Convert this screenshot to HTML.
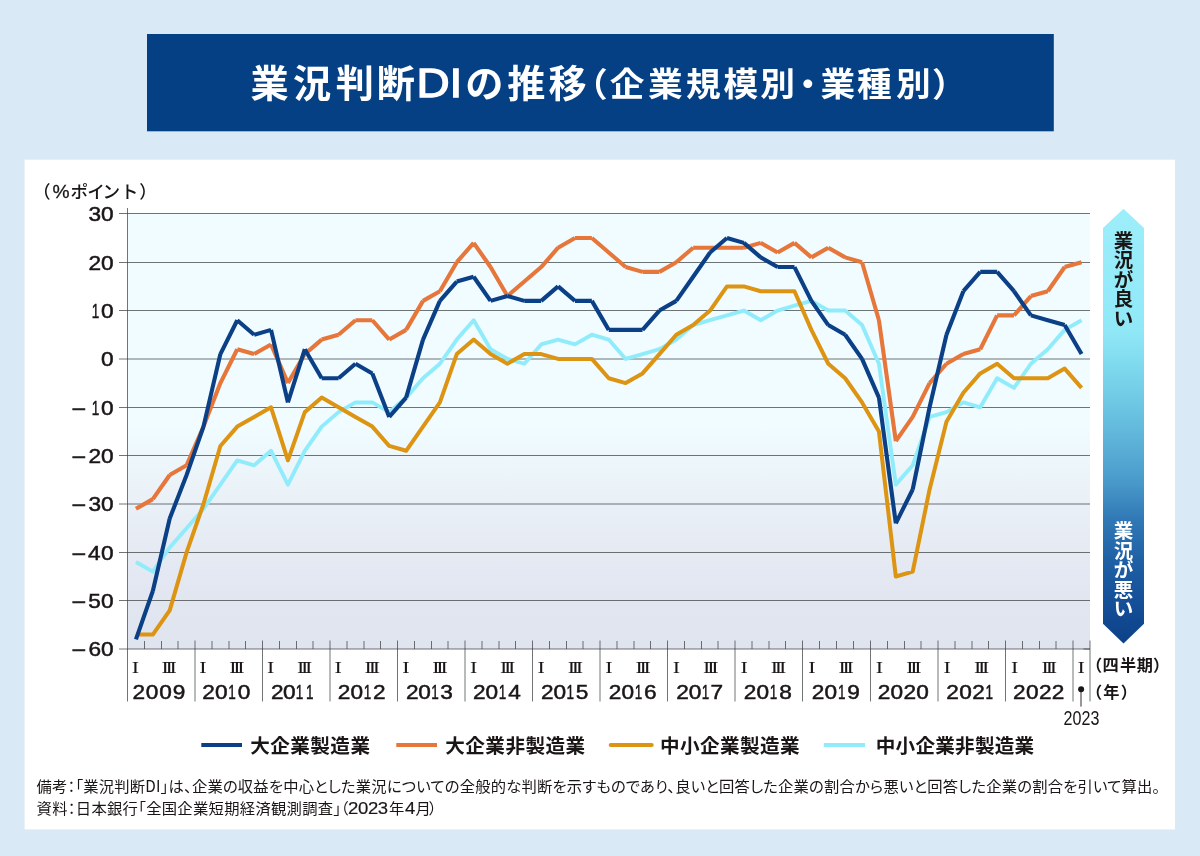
<!DOCTYPE html>
<html lang="ja"><head><meta charset="utf-8"><title>業況判断DIの推移（企業規模別・業種別）</title>
<style>
html,body{margin:0;padding:0;background:#dae9f6;}
body{width:1200px;height:856px;overflow:hidden;}
svg{display:block;}
text{font-family:"Liberation Sans","Noto Sans CJK JP",sans-serif;fill:#1a1615;}
.jp{font-family:"Noto Sans CJK JP","Liberation Sans",sans-serif;}
.ls{font-family:"Liberation Sans","Noto Sans CJK JP",sans-serif;}
.se{font-family:"Liberation Serif","Noto Serif CJK JP",serif;}
.b{font-weight:700;}
.m{font-weight:500;}
.r{font-weight:400;}
.w{fill:#fff;}
.palt{font-feature-settings:"palt" 1;}
.d{stroke:#1a1615;stroke-width:0.5px;}
.d2{stroke:#1a1615;stroke-width:0.16px;}
.di{stroke:#fff;stroke-width:1.3px;}
</style></head><body>
<svg width="1200" height="856" viewBox="0 0 1200 856">
<defs>
<linearGradient id="pg" x1="0" y1="0" x2="0" y2="1"><stop offset="0" stop-color="#f0fcff"/><stop offset="0.49" stop-color="#f0fcff"/><stop offset="0.59" stop-color="#ecf5fa"/><stop offset="0.67" stop-color="#e9f0f7"/><stop offset="0.77" stop-color="#e5eaf3"/><stop offset="0.88" stop-color="#e2e6f1"/><stop offset="1" stop-color="#e0e4ef"/></linearGradient>
<linearGradient id="ag" x1="0" y1="0" x2="0" y2="1"><stop offset="0" stop-color="#9ceefa"/><stop offset="0.28" stop-color="#90e8f7"/><stop offset="0.394" stop-color="#78d3ea"/><stop offset="0.509" stop-color="#62b9dc"/><stop offset="0.624" stop-color="#4a9bcb"/><stop offset="0.716" stop-color="#3078b5"/><stop offset="0.808" stop-color="#1f60a5"/><stop offset="0.90" stop-color="#155098"/><stop offset="1" stop-color="#0c4189"/></linearGradient>
</defs>
<rect x="0" y="0" width="1200" height="856" fill="#dae9f6"/>
<rect x="147" y="34" width="906.8" height="97.3" fill="#054085"/>
<rect x="24.6" y="159.7" width="1150.4" height="669.7" fill="#fff"/>
<text class="jp b w" y="97.2"><tspan x="250.57" textLength="38.16" lengthAdjust="spacingAndGlyphs" font-size="37.6">業</tspan><tspan x="292.97" textLength="38.16" lengthAdjust="spacingAndGlyphs" font-size="37.6">況</tspan><tspan x="335.73" textLength="38.16" lengthAdjust="spacingAndGlyphs" font-size="37.6">判</tspan><tspan x="376.65" textLength="38.16" lengthAdjust="spacingAndGlyphs" font-size="37.6">断</tspan><tspan class="ls r di" font-size="40.3" y="97.1"><tspan x="416.6" textLength="33.18" lengthAdjust="spacingAndGlyphs">D</tspan><tspan x="449.4" textLength="12.77" lengthAdjust="spacingAndGlyphs">I</tspan></tspan><tspan x="465.31" y="97.2" textLength="38.16" lengthAdjust="spacingAndGlyphs" font-size="37.6">の</tspan><tspan x="507.36" y="97.2" textLength="38.16" lengthAdjust="spacingAndGlyphs" font-size="37.6">推</tspan><tspan x="548.61" y="97.2" textLength="38.16" lengthAdjust="spacingAndGlyphs" font-size="37.6">移</tspan><tspan x="573.13" y="95.7" textLength="34.69" lengthAdjust="spacingAndGlyphs" font-size="33.2">（</tspan><tspan x="609.86" y="95.7" textLength="34.69" lengthAdjust="spacingAndGlyphs" font-size="33.2">企</tspan><tspan x="648.11" y="95.7" textLength="34.69" lengthAdjust="spacingAndGlyphs" font-size="33.2">業</tspan><tspan x="686.07" y="95.7" textLength="34.69" lengthAdjust="spacingAndGlyphs" font-size="33.2">規</tspan><tspan x="723.64" y="95.7" textLength="34.69" lengthAdjust="spacingAndGlyphs" font-size="33.2">模</tspan><tspan x="760.38" y="95.7" textLength="34.69" lengthAdjust="spacingAndGlyphs" font-size="33.2">別</tspan><tspan x="790.4" y="95.7" textLength="34.69" lengthAdjust="spacingAndGlyphs" font-size="33.2">・</tspan><tspan x="820.51" y="95.7" textLength="34.69" lengthAdjust="spacingAndGlyphs" font-size="33.2">業</tspan><tspan x="857.03" y="95.7" textLength="34.69" lengthAdjust="spacingAndGlyphs" font-size="33.2">種</tspan><tspan x="896.08" y="95.7" textLength="34.69" lengthAdjust="spacingAndGlyphs" font-size="33.2">別</tspan><tspan x="932.12" y="95.7" textLength="34.69" lengthAdjust="spacingAndGlyphs" font-size="33.2">）</tspan></text>
<rect x="128" y="214" width="962" height="435" fill="url(#pg)"/>
<line x1="119" y1="213.5" x2="1090" y2="213.5" stroke="#3a3d3e" stroke-width="0.72"/>
<line x1="119" y1="262.5" x2="1090" y2="262.5" stroke="#3a3d3e" stroke-width="0.72"/>
<line x1="119" y1="310.5" x2="1090" y2="310.5" stroke="#3a3d3e" stroke-width="0.72"/>
<line x1="119" y1="359" x2="1090" y2="359" stroke="#3a3d3e" stroke-width="0.72"/>
<line x1="119" y1="407.5" x2="1090" y2="407.5" stroke="#3a3d3e" stroke-width="0.72"/>
<line x1="119" y1="455.5" x2="1090" y2="455.5" stroke="#3a3d3e" stroke-width="0.72"/>
<line x1="119" y1="504" x2="1090" y2="504" stroke="#3a3d3e" stroke-width="0.72"/>
<line x1="119" y1="552.5" x2="1090" y2="552.5" stroke="#3a3d3e" stroke-width="0.72"/>
<line x1="119" y1="600.5" x2="1090" y2="600.5" stroke="#3a3d3e" stroke-width="0.72"/>
<line x1="119" y1="649" x2="1090" y2="649" stroke="#3a3d3e" stroke-width="0.72"/>
<line x1="144.5" y1="641" x2="144.5" y2="649" stroke="#3a3d3e" stroke-width="0.72"/>
<line x1="161.5" y1="641" x2="161.5" y2="649" stroke="#3a3d3e" stroke-width="0.72"/>
<line x1="178" y1="641" x2="178" y2="649" stroke="#3a3d3e" stroke-width="0.72"/>
<line x1="195" y1="640.5" x2="195" y2="701.5" stroke="#3a3d3e" stroke-width="0.72"/>
<line x1="212" y1="641" x2="212" y2="649" stroke="#3a3d3e" stroke-width="0.72"/>
<line x1="229" y1="641" x2="229" y2="649" stroke="#3a3d3e" stroke-width="0.72"/>
<line x1="245.5" y1="641" x2="245.5" y2="649" stroke="#3a3d3e" stroke-width="0.72"/>
<line x1="262.5" y1="640.5" x2="262.5" y2="701.5" stroke="#3a3d3e" stroke-width="0.72"/>
<line x1="279.5" y1="641" x2="279.5" y2="649" stroke="#3a3d3e" stroke-width="0.72"/>
<line x1="296.5" y1="641" x2="296.5" y2="649" stroke="#3a3d3e" stroke-width="0.72"/>
<line x1="313" y1="641" x2="313" y2="649" stroke="#3a3d3e" stroke-width="0.72"/>
<line x1="330" y1="640.5" x2="330" y2="701.5" stroke="#3a3d3e" stroke-width="0.72"/>
<line x1="347" y1="641" x2="347" y2="649" stroke="#3a3d3e" stroke-width="0.72"/>
<line x1="364" y1="641" x2="364" y2="649" stroke="#3a3d3e" stroke-width="0.72"/>
<line x1="380.5" y1="641" x2="380.5" y2="649" stroke="#3a3d3e" stroke-width="0.72"/>
<line x1="397.5" y1="640.5" x2="397.5" y2="701.5" stroke="#3a3d3e" stroke-width="0.72"/>
<line x1="414.5" y1="641" x2="414.5" y2="649" stroke="#3a3d3e" stroke-width="0.72"/>
<line x1="431.5" y1="641" x2="431.5" y2="649" stroke="#3a3d3e" stroke-width="0.72"/>
<line x1="448" y1="641" x2="448" y2="649" stroke="#3a3d3e" stroke-width="0.72"/>
<line x1="465" y1="640.5" x2="465" y2="701.5" stroke="#3a3d3e" stroke-width="0.72"/>
<line x1="482" y1="641" x2="482" y2="649" stroke="#3a3d3e" stroke-width="0.72"/>
<line x1="499" y1="641" x2="499" y2="649" stroke="#3a3d3e" stroke-width="0.72"/>
<line x1="515.5" y1="641" x2="515.5" y2="649" stroke="#3a3d3e" stroke-width="0.72"/>
<line x1="532.5" y1="640.5" x2="532.5" y2="701.5" stroke="#3a3d3e" stroke-width="0.72"/>
<line x1="549.5" y1="641" x2="549.5" y2="649" stroke="#3a3d3e" stroke-width="0.72"/>
<line x1="566.5" y1="641" x2="566.5" y2="649" stroke="#3a3d3e" stroke-width="0.72"/>
<line x1="583" y1="641" x2="583" y2="649" stroke="#3a3d3e" stroke-width="0.72"/>
<line x1="600" y1="640.5" x2="600" y2="701.5" stroke="#3a3d3e" stroke-width="0.72"/>
<line x1="617" y1="641" x2="617" y2="649" stroke="#3a3d3e" stroke-width="0.72"/>
<line x1="634" y1="641" x2="634" y2="649" stroke="#3a3d3e" stroke-width="0.72"/>
<line x1="650.5" y1="641" x2="650.5" y2="649" stroke="#3a3d3e" stroke-width="0.72"/>
<line x1="667.5" y1="640.5" x2="667.5" y2="701.5" stroke="#3a3d3e" stroke-width="0.72"/>
<line x1="684.5" y1="641" x2="684.5" y2="649" stroke="#3a3d3e" stroke-width="0.72"/>
<line x1="701.5" y1="641" x2="701.5" y2="649" stroke="#3a3d3e" stroke-width="0.72"/>
<line x1="718" y1="641" x2="718" y2="649" stroke="#3a3d3e" stroke-width="0.72"/>
<line x1="735" y1="640.5" x2="735" y2="701.5" stroke="#3a3d3e" stroke-width="0.72"/>
<line x1="752" y1="641" x2="752" y2="649" stroke="#3a3d3e" stroke-width="0.72"/>
<line x1="769" y1="641" x2="769" y2="649" stroke="#3a3d3e" stroke-width="0.72"/>
<line x1="785.5" y1="641" x2="785.5" y2="649" stroke="#3a3d3e" stroke-width="0.72"/>
<line x1="802.5" y1="640.5" x2="802.5" y2="701.5" stroke="#3a3d3e" stroke-width="0.72"/>
<line x1="819.5" y1="641" x2="819.5" y2="649" stroke="#3a3d3e" stroke-width="0.72"/>
<line x1="836.5" y1="641" x2="836.5" y2="649" stroke="#3a3d3e" stroke-width="0.72"/>
<line x1="853.5" y1="641" x2="853.5" y2="649" stroke="#3a3d3e" stroke-width="0.72"/>
<line x1="870.5" y1="640.5" x2="870.5" y2="701.5" stroke="#3a3d3e" stroke-width="0.72"/>
<line x1="887.5" y1="641" x2="887.5" y2="649" stroke="#3a3d3e" stroke-width="0.72"/>
<line x1="904.5" y1="641" x2="904.5" y2="649" stroke="#3a3d3e" stroke-width="0.72"/>
<line x1="921" y1="641" x2="921" y2="649" stroke="#3a3d3e" stroke-width="0.72"/>
<line x1="938" y1="640.5" x2="938" y2="701.5" stroke="#3a3d3e" stroke-width="0.72"/>
<line x1="955" y1="641" x2="955" y2="649" stroke="#3a3d3e" stroke-width="0.72"/>
<line x1="972" y1="641" x2="972" y2="649" stroke="#3a3d3e" stroke-width="0.72"/>
<line x1="988.5" y1="641" x2="988.5" y2="649" stroke="#3a3d3e" stroke-width="0.72"/>
<line x1="1005.5" y1="640.5" x2="1005.5" y2="701.5" stroke="#3a3d3e" stroke-width="0.72"/>
<line x1="1022.5" y1="641" x2="1022.5" y2="649" stroke="#3a3d3e" stroke-width="0.72"/>
<line x1="1039.5" y1="641" x2="1039.5" y2="649" stroke="#3a3d3e" stroke-width="0.72"/>
<line x1="1056" y1="641" x2="1056" y2="649" stroke="#3a3d3e" stroke-width="0.72"/>
<line x1="1073" y1="640.5" x2="1073" y2="701.5" stroke="#3a3d3e" stroke-width="0.72"/>
<line x1="1090" y1="640.5" x2="1090" y2="701.5" stroke="#3a3d3e" stroke-width="0.72"/>
<line x1="1083.5" y1="649" x2="1090" y2="649" stroke="#3a3d3e" stroke-width="0.72"/>
<line x1="127.5" y1="208" x2="127.5" y2="701.5" stroke="#3a3d3e" stroke-width="0.72"/>
<polyline points="135.94,562.01 152.83,571.68 169.71,547.5 186.6,528.16 203.49,508.82 220.37,484.64 237.26,460.46 254.14,465.3 271.03,450.79 287.92,484.64 304.8,450.79 321.69,426.61 338.57,412.11 355.46,402.43 372.35,402.43 389.23,412.11 406.12,397.6 423,378.26 439.89,363.75 456.78,339.57 473.66,320.23 490.55,349.24 507.43,358.91 524.32,363.75 541.21,344.41 558.09,339.57 574.98,344.41 591.86,334.74 608.75,339.57 625.64,358.91 642.52,354.08 659.41,349.24 676.29,339.57 693.18,325.07 710.07,320.23 726.95,315.4 743.84,310.56 760.72,320.23 777.61,310.56 794.5,305.72 811.38,300.89 828.27,310.56 845.15,310.56 862.04,325.07 878.93,363.75 895.81,484.64 912.7,465.3 929.58,416.94 946.47,412.11 963.36,402.43 980.24,407.27 997.13,378.26 1014.01,387.93 1030.9,363.75 1047.79,349.24 1064.67,329.9 1081.56,320.23" fill="none" stroke="#90ecfb" stroke-width="3.9" stroke-linejoin="round" stroke-linecap="butt"/>
<polyline points="135.94,634.54 152.83,634.54 169.71,610.36 186.6,552.34 203.49,503.98 220.37,445.95 237.26,426.61 254.14,416.94 271.03,407.27 287.92,460.46 304.8,412.11 321.69,397.6 338.57,407.27 355.46,416.94 372.35,426.61 389.23,445.95 406.12,450.79 423,426.61 439.89,402.43 456.78,354.08 473.66,339.57 490.55,354.08 507.43,363.75 524.32,354.08 541.21,354.08 558.09,358.91 574.98,358.91 591.86,358.91 608.75,378.26 625.64,383.09 642.52,373.42 659.41,354.08 676.29,334.74 693.18,325.07 710.07,310.56 726.95,286.38 743.84,286.38 760.72,291.22 777.61,291.22 794.5,291.22 811.38,329.9 828.27,363.75 845.15,378.26 862.04,402.43 878.93,431.45 895.81,576.51 912.7,571.68 929.58,489.47 946.47,421.78 963.36,392.76 980.24,373.42 997.13,363.75 1014.01,378.26 1030.9,378.26 1047.79,378.26 1064.67,368.59 1081.56,387.93" fill="none" stroke="#dc9412" stroke-width="4.0" stroke-linejoin="round" stroke-linecap="butt"/>
<path d="M135.94 508.82L152.83 499.14M152.83 499.14L169.71 474.97M169.71 474.97L186.6 465.3M186.6 465.3L203.49 426.61M203.49 426.61L220.37 383.09M220.37 383.09L237.26 349.24M237.26 349.24L254.14 354.08M254.14 354.08L271.03 344.41M271.03 344.41L287.92 383.09M287.92 383.09L304.8 354.08M304.8 354.08L321.69 339.57M321.69 339.57L338.57 334.74M338.57 334.74L355.46 320.23M355.46 320.23L372.35 320.23M372.35 320.23L389.23 339.57M389.23 339.57L406.12 329.9M406.12 329.9L423 300.89M423 300.89L439.89 291.22M439.89 291.22L456.78 262.2M456.78 262.2L473.66 242.86M473.66 242.86L490.55 267.04M490.55 267.04L507.43 296.05M507.43 296.05L524.32 281.55M524.32 281.55L541.21 267.04M541.21 267.04L558.09 247.7M558.09 247.7L574.98 238.03M574.98 238.03L591.86 238.03M591.86 238.03L608.75 252.53M608.75 252.53L625.64 267.04M625.64 267.04L642.52 271.88M642.52 271.88L659.41 271.88M659.41 271.88L676.29 262.2M676.29 262.2L693.18 247.7M693.18 247.7L710.07 247.7M710.07 247.7L726.95 247.7M726.95 247.7L743.84 247.7M743.84 247.7L760.72 242.86M760.72 242.86L777.61 252.53M777.61 252.53L794.5 242.86M794.5 242.86L811.38 257.37M811.38 257.37L828.27 247.7M828.27 247.7L845.15 257.37M845.15 257.37L862.04 262.2M862.04 262.2L878.93 320.23M878.93 320.23L895.81 441.12M895.81 441.12L912.7 416.94M912.7 416.94L929.58 383.09M929.58 383.09L946.47 363.75M946.47 363.75L963.36 354.08M963.36 354.08L980.24 349.24M980.24 349.24L997.13 315.4M997.13 315.4L1014.01 315.4M1014.01 315.4L1030.9 296.05M1030.9 296.05L1047.79 291.22M1047.79 291.22L1064.67 267.04M1064.67 267.04L1081.56 262.2" fill="none" stroke="#e6763a" stroke-width="4.1"/>
<path d="M135.94 639.37L152.83 591.02M152.83 591.02L169.71 518.49M169.71 518.49L186.6 474.97M186.6 474.97L203.49 426.61M203.49 426.61L220.37 354.08M220.37 354.08L237.26 320.23M237.26 320.23L254.14 334.74M254.14 334.74L271.03 329.9M271.03 329.9L287.92 402.43M287.92 402.43L304.8 349.24M304.8 349.24L321.69 378.26M321.69 378.26L338.57 378.26M338.57 378.26L355.46 363.75M355.46 363.75L372.35 373.42M372.35 373.42L389.23 416.94M389.23 416.94L406.12 397.6M406.12 397.6L423 339.57M423 339.57L439.89 300.89M439.89 300.89L456.78 281.55M456.78 281.55L473.66 276.71M473.66 276.71L490.55 300.89M490.55 300.89L507.43 296.05M507.43 296.05L524.32 300.89M524.32 300.89L541.21 300.89M541.21 300.89L558.09 286.38M558.09 286.38L574.98 300.89M574.98 300.89L591.86 300.89M591.86 300.89L608.75 329.9M608.75 329.9L625.64 329.9M625.64 329.9L642.52 329.9M642.52 329.9L659.41 310.56M659.41 310.56L676.29 300.89M676.29 300.89L693.18 276.71M693.18 276.71L710.07 252.53M710.07 252.53L726.95 238.03M726.95 238.03L743.84 242.86M743.84 242.86L760.72 257.37M760.72 257.37L777.61 267.04M777.61 267.04L794.5 267.04M794.5 267.04L811.38 300.89M811.38 300.89L828.27 325.07M828.27 325.07L845.15 334.74M845.15 334.74L862.04 358.91M862.04 358.91L878.93 397.6M878.93 397.6L895.81 523.32M895.81 523.32L912.7 489.47M912.7 489.47L929.58 407.27M929.58 407.27L946.47 334.74M946.47 334.74L963.36 291.22M963.36 291.22L980.24 271.88M980.24 271.88L997.13 271.88M997.13 271.88L1014.01 291.22M1014.01 291.22L1030.9 315.4M1030.9 315.4L1047.79 320.23M1047.79 320.23L1064.67 325.07M1064.67 325.07L1081.56 354.08" fill="none" stroke="#0b3f86" stroke-width="4.1"/>
<text class="jp m" y="198"><tspan x="32.96" font-size="17.6">（</tspan><tspan class="ls r d2" x="52.6" y="198.1" font-size="19.2" style="stroke-width:0.3px">%</tspan><tspan x="70.61" y="198" font-size="17.6">ポ</tspan><tspan x="87.14" y="198" font-size="17.6">イ</tspan><tspan x="102.47" y="198" font-size="17.6">ン</tspan><tspan x="120.68" y="198" font-size="17.6">ト</tspan><tspan x="139.19" y="198" font-size="17.6">）</tspan></text>
<text class="ls d" y="220.9" font-size="20.8"><tspan x="88.4" y="220.9" textLength="12.61" lengthAdjust="spacingAndGlyphs">3</tspan><tspan x="101.02" textLength="12.61" lengthAdjust="spacingAndGlyphs">0</tspan></text>
<text class="ls d" y="269.9" font-size="20.8"><tspan x="88.57" y="269.9" textLength="12.61" lengthAdjust="spacingAndGlyphs">2</tspan><tspan x="101.02" textLength="12.61" lengthAdjust="spacingAndGlyphs">0</tspan></text>
<text class="ls d" y="317.9" font-size="20.8"><tspan x="91.86" y="317.9" textLength="7.52" lengthAdjust="spacingAndGlyphs">1</tspan><tspan x="101.02" textLength="12.61" lengthAdjust="spacingAndGlyphs">0</tspan></text>
<text class="ls d" y="366.4" font-size="20.8"><tspan x="101.02" y="366.4" textLength="12.61" lengthAdjust="spacingAndGlyphs">0</tspan></text>
<text class="ls d" y="414.9" font-size="20.8"><tspan x="71.64" y="415.9" textLength="14.69" lengthAdjust="spacingAndGlyphs">−</tspan><tspan x="91.86" y="414.9" textLength="7.52" lengthAdjust="spacingAndGlyphs">1</tspan><tspan x="101.02" textLength="12.61" lengthAdjust="spacingAndGlyphs">0</tspan></text>
<text class="ls d" y="462.9" font-size="20.8"><tspan x="71.64" y="463.9" textLength="14.69" lengthAdjust="spacingAndGlyphs">−</tspan><tspan x="88.57" y="462.9" textLength="12.61" lengthAdjust="spacingAndGlyphs">2</tspan><tspan x="101.02" textLength="12.61" lengthAdjust="spacingAndGlyphs">0</tspan></text>
<text class="ls d" y="511.4" font-size="20.8"><tspan x="71.64" y="512.4" textLength="14.69" lengthAdjust="spacingAndGlyphs">−</tspan><tspan x="88.4" y="511.4" textLength="12.61" lengthAdjust="spacingAndGlyphs">3</tspan><tspan x="101.02" textLength="12.61" lengthAdjust="spacingAndGlyphs">0</tspan></text>
<text class="ls d" y="559.9" font-size="20.8"><tspan x="71.64" y="560.9" textLength="14.69" lengthAdjust="spacingAndGlyphs">−</tspan><tspan x="88.06" y="559.9" textLength="12.61" lengthAdjust="spacingAndGlyphs">4</tspan><tspan x="101.02" textLength="12.61" lengthAdjust="spacingAndGlyphs">0</tspan></text>
<text class="ls d" y="607.9" font-size="20.8"><tspan x="71.64" y="608.9" textLength="14.69" lengthAdjust="spacingAndGlyphs">−</tspan><tspan x="88.35" y="607.9" textLength="12.61" lengthAdjust="spacingAndGlyphs">5</tspan><tspan x="101.02" textLength="12.61" lengthAdjust="spacingAndGlyphs">0</tspan></text>
<text class="ls d" y="656.4" font-size="20.8"><tspan x="71.64" y="657.4" textLength="14.69" lengthAdjust="spacingAndGlyphs">−</tspan><tspan x="88.4" y="656.4" textLength="12.61" lengthAdjust="spacingAndGlyphs">6</tspan><tspan x="101.02" textLength="12.61" lengthAdjust="spacingAndGlyphs">0</tspan></text>
<text class="se" y="673" font-size="17.6"><tspan x="131.69" textLength="7.33" lengthAdjust="spacingAndGlyphs">I</tspan></text>
<text class="se" y="673" font-size="17.6"><tspan x="161.52" textLength="7.33" lengthAdjust="spacingAndGlyphs">I</tspan><tspan x="165.57" textLength="7.33" lengthAdjust="spacingAndGlyphs">I</tspan><tspan x="169.62" textLength="7.33" lengthAdjust="spacingAndGlyphs">I</tspan></text>
<text class="se" y="673" font-size="17.6"><tspan x="199.34" textLength="7.33" lengthAdjust="spacingAndGlyphs">I</tspan></text>
<text class="se" y="673" font-size="17.6"><tspan x="229.22" textLength="7.33" lengthAdjust="spacingAndGlyphs">I</tspan><tspan x="233.27" textLength="7.33" lengthAdjust="spacingAndGlyphs">I</tspan><tspan x="237.32" textLength="7.33" lengthAdjust="spacingAndGlyphs">I</tspan></text>
<text class="se" y="673" font-size="17.6"><tspan x="266.99" textLength="7.33" lengthAdjust="spacingAndGlyphs">I</tspan></text>
<text class="se" y="673" font-size="17.6"><tspan x="296.92" textLength="7.33" lengthAdjust="spacingAndGlyphs">I</tspan><tspan x="300.97" textLength="7.33" lengthAdjust="spacingAndGlyphs">I</tspan><tspan x="305.02" textLength="7.33" lengthAdjust="spacingAndGlyphs">I</tspan></text>
<text class="se" y="673" font-size="17.6"><tspan x="334.64" textLength="7.33" lengthAdjust="spacingAndGlyphs">I</tspan></text>
<text class="se" y="673" font-size="17.6"><tspan x="364.62" textLength="7.33" lengthAdjust="spacingAndGlyphs">I</tspan><tspan x="368.67" textLength="7.33" lengthAdjust="spacingAndGlyphs">I</tspan><tspan x="372.72" textLength="7.33" lengthAdjust="spacingAndGlyphs">I</tspan></text>
<text class="se" y="673" font-size="17.6"><tspan x="402.29" textLength="7.33" lengthAdjust="spacingAndGlyphs">I</tspan></text>
<text class="se" y="673" font-size="17.6"><tspan x="432.32" textLength="7.33" lengthAdjust="spacingAndGlyphs">I</tspan><tspan x="436.37" textLength="7.33" lengthAdjust="spacingAndGlyphs">I</tspan><tspan x="440.42" textLength="7.33" lengthAdjust="spacingAndGlyphs">I</tspan></text>
<text class="se" y="673" font-size="17.6"><tspan x="469.94" textLength="7.33" lengthAdjust="spacingAndGlyphs">I</tspan></text>
<text class="se" y="673" font-size="17.6"><tspan x="500.02" textLength="7.33" lengthAdjust="spacingAndGlyphs">I</tspan><tspan x="504.07" textLength="7.33" lengthAdjust="spacingAndGlyphs">I</tspan><tspan x="508.12" textLength="7.33" lengthAdjust="spacingAndGlyphs">I</tspan></text>
<text class="se" y="673" font-size="17.6"><tspan x="537.59" textLength="7.33" lengthAdjust="spacingAndGlyphs">I</tspan></text>
<text class="se" y="673" font-size="17.6"><tspan x="567.72" textLength="7.33" lengthAdjust="spacingAndGlyphs">I</tspan><tspan x="571.77" textLength="7.33" lengthAdjust="spacingAndGlyphs">I</tspan><tspan x="575.82" textLength="7.33" lengthAdjust="spacingAndGlyphs">I</tspan></text>
<text class="se" y="673" font-size="17.6"><tspan x="605.24" textLength="7.33" lengthAdjust="spacingAndGlyphs">I</tspan></text>
<text class="se" y="673" font-size="17.6"><tspan x="635.42" textLength="7.33" lengthAdjust="spacingAndGlyphs">I</tspan><tspan x="639.47" textLength="7.33" lengthAdjust="spacingAndGlyphs">I</tspan><tspan x="643.52" textLength="7.33" lengthAdjust="spacingAndGlyphs">I</tspan></text>
<text class="se" y="673" font-size="17.6"><tspan x="672.89" textLength="7.33" lengthAdjust="spacingAndGlyphs">I</tspan></text>
<text class="se" y="673" font-size="17.6"><tspan x="703.12" textLength="7.33" lengthAdjust="spacingAndGlyphs">I</tspan><tspan x="707.17" textLength="7.33" lengthAdjust="spacingAndGlyphs">I</tspan><tspan x="711.22" textLength="7.33" lengthAdjust="spacingAndGlyphs">I</tspan></text>
<text class="se" y="673" font-size="17.6"><tspan x="740.54" textLength="7.33" lengthAdjust="spacingAndGlyphs">I</tspan></text>
<text class="se" y="673" font-size="17.6"><tspan x="770.82" textLength="7.33" lengthAdjust="spacingAndGlyphs">I</tspan><tspan x="774.87" textLength="7.33" lengthAdjust="spacingAndGlyphs">I</tspan><tspan x="778.92" textLength="7.33" lengthAdjust="spacingAndGlyphs">I</tspan></text>
<text class="se" y="673" font-size="17.6"><tspan x="808.19" textLength="7.33" lengthAdjust="spacingAndGlyphs">I</tspan></text>
<text class="se" y="673" font-size="17.6"><tspan x="838.52" textLength="7.33" lengthAdjust="spacingAndGlyphs">I</tspan><tspan x="842.57" textLength="7.33" lengthAdjust="spacingAndGlyphs">I</tspan><tspan x="846.62" textLength="7.33" lengthAdjust="spacingAndGlyphs">I</tspan></text>
<text class="se" y="673" font-size="17.6"><tspan x="875.84" textLength="7.33" lengthAdjust="spacingAndGlyphs">I</tspan></text>
<text class="se" y="673" font-size="17.6"><tspan x="906.22" textLength="7.33" lengthAdjust="spacingAndGlyphs">I</tspan><tspan x="910.27" textLength="7.33" lengthAdjust="spacingAndGlyphs">I</tspan><tspan x="914.32" textLength="7.33" lengthAdjust="spacingAndGlyphs">I</tspan></text>
<text class="se" y="673" font-size="17.6"><tspan x="943.49" textLength="7.33" lengthAdjust="spacingAndGlyphs">I</tspan></text>
<text class="se" y="673" font-size="17.6"><tspan x="973.92" textLength="7.33" lengthAdjust="spacingAndGlyphs">I</tspan><tspan x="977.97" textLength="7.33" lengthAdjust="spacingAndGlyphs">I</tspan><tspan x="982.02" textLength="7.33" lengthAdjust="spacingAndGlyphs">I</tspan></text>
<text class="se" y="673" font-size="17.6"><tspan x="1011.14" textLength="7.33" lengthAdjust="spacingAndGlyphs">I</tspan></text>
<text class="se" y="673" font-size="17.6"><tspan x="1041.62" textLength="7.33" lengthAdjust="spacingAndGlyphs">I</tspan><tspan x="1045.67" textLength="7.33" lengthAdjust="spacingAndGlyphs">I</tspan><tspan x="1049.72" textLength="7.33" lengthAdjust="spacingAndGlyphs">I</tspan></text>
<text class="se" y="673" font-size="17.6"><tspan x="1077.64" textLength="7.33" lengthAdjust="spacingAndGlyphs">I</tspan></text>
<text class="ls d" y="699.0" font-size="20.8"><tspan x="132.62" textLength="12.61" lengthAdjust="spacingAndGlyphs">2</tspan><tspan x="145.84" textLength="12.61" lengthAdjust="spacingAndGlyphs">0</tspan><tspan x="159.35" textLength="12.61" lengthAdjust="spacingAndGlyphs">0</tspan><tspan x="172.69" textLength="12.61" lengthAdjust="spacingAndGlyphs">9</tspan></text>
<text class="ls d" y="699.0" font-size="20.8"><tspan x="202.37" textLength="12.61" lengthAdjust="spacingAndGlyphs">2</tspan><tspan x="215.01" textLength="12.61" lengthAdjust="spacingAndGlyphs">0</tspan><tspan x="228.27" textLength="7.52" lengthAdjust="spacingAndGlyphs">1</tspan><tspan x="237.77" textLength="12.61" lengthAdjust="spacingAndGlyphs">0</tspan></text>
<text class="ls d" y="699.0" font-size="20.8"><tspan x="270.92" textLength="12.61" lengthAdjust="spacingAndGlyphs">2</tspan><tspan x="283.09" textLength="12.61" lengthAdjust="spacingAndGlyphs">0</tspan><tspan x="295.78" textLength="7.52" lengthAdjust="spacingAndGlyphs">1</tspan><tspan x="306.09" textLength="7.52" lengthAdjust="spacingAndGlyphs">1</tspan></text>
<text class="ls d" y="699.0" font-size="20.8"><tspan x="337.82" textLength="12.61" lengthAdjust="spacingAndGlyphs">2</tspan><tspan x="350.48" textLength="12.61" lengthAdjust="spacingAndGlyphs">0</tspan><tspan x="363.76" textLength="7.52" lengthAdjust="spacingAndGlyphs">1</tspan><tspan x="373.05" textLength="12.61" lengthAdjust="spacingAndGlyphs">2</tspan></text>
<text class="ls d" y="699.0" font-size="20.8"><tspan x="405.92" textLength="12.61" lengthAdjust="spacingAndGlyphs">2</tspan><tspan x="418.31" textLength="12.61" lengthAdjust="spacingAndGlyphs">0</tspan><tspan x="431.26" textLength="7.52" lengthAdjust="spacingAndGlyphs">1</tspan><tspan x="440.38" textLength="12.61" lengthAdjust="spacingAndGlyphs">3</tspan></text>
<text class="ls d" y="699.0" font-size="20.8"><tspan x="473.12" textLength="12.61" lengthAdjust="spacingAndGlyphs">2</tspan><tspan x="485.6" textLength="12.61" lengthAdjust="spacingAndGlyphs">0</tspan><tspan x="498.67" textLength="7.52" lengthAdjust="spacingAndGlyphs">1</tspan><tspan x="508.29" textLength="12.61" lengthAdjust="spacingAndGlyphs">4</tspan></text>
<text class="ls d" y="699.0" font-size="20.8"><tspan x="540.92" textLength="12.61" lengthAdjust="spacingAndGlyphs">2</tspan><tspan x="553.42" textLength="12.61" lengthAdjust="spacingAndGlyphs">0</tspan><tspan x="566.51" textLength="7.52" lengthAdjust="spacingAndGlyphs">1</tspan><tspan x="575.77" textLength="12.61" lengthAdjust="spacingAndGlyphs">5</tspan></text>
<text class="ls d" y="699.0" font-size="20.8"><tspan x="608.87" textLength="12.61" lengthAdjust="spacingAndGlyphs">2</tspan><tspan x="621.48" textLength="12.61" lengthAdjust="spacingAndGlyphs">0</tspan><tspan x="634.71" textLength="7.52" lengthAdjust="spacingAndGlyphs">1</tspan><tspan x="643.93" textLength="12.61" lengthAdjust="spacingAndGlyphs">6</tspan></text>
<text class="ls d" y="699.0" font-size="20.8"><tspan x="676.37" textLength="12.61" lengthAdjust="spacingAndGlyphs">2</tspan><tspan x="688.77" textLength="12.61" lengthAdjust="spacingAndGlyphs">0</tspan><tspan x="701.74" textLength="7.52" lengthAdjust="spacingAndGlyphs">1</tspan><tspan x="710.55" textLength="12.61" lengthAdjust="spacingAndGlyphs">7</tspan></text>
<text class="ls d" y="699.0" font-size="20.8"><tspan x="743.87" textLength="12.61" lengthAdjust="spacingAndGlyphs">2</tspan><tspan x="756.55" textLength="12.61" lengthAdjust="spacingAndGlyphs">0</tspan><tspan x="769.87" textLength="7.52" lengthAdjust="spacingAndGlyphs">1</tspan><tspan x="779.38" textLength="12.61" lengthAdjust="spacingAndGlyphs">8</tspan></text>
<text class="ls d" y="699.0" font-size="20.8"><tspan x="811.82" textLength="12.61" lengthAdjust="spacingAndGlyphs">2</tspan><tspan x="824.55" textLength="12.61" lengthAdjust="spacingAndGlyphs">0</tspan><tspan x="837.92" textLength="7.52" lengthAdjust="spacingAndGlyphs">1</tspan><tspan x="847.39" textLength="12.61" lengthAdjust="spacingAndGlyphs">9</tspan></text>
<text class="ls d" y="699.0" font-size="20.8"><tspan x="877.82" textLength="12.61" lengthAdjust="spacingAndGlyphs">2</tspan><tspan x="890.6" textLength="12.61" lengthAdjust="spacingAndGlyphs">0</tspan><tspan x="903.44" textLength="12.61" lengthAdjust="spacingAndGlyphs">2</tspan><tspan x="916.22" textLength="12.61" lengthAdjust="spacingAndGlyphs">0</tspan></text>
<text class="ls d" y="699.0" font-size="20.8"><tspan x="946.37" textLength="12.61" lengthAdjust="spacingAndGlyphs">2</tspan><tspan x="959.29" textLength="12.61" lengthAdjust="spacingAndGlyphs">0</tspan><tspan x="972.27" textLength="12.61" lengthAdjust="spacingAndGlyphs">2</tspan><tspan x="985.59" textLength="7.52" lengthAdjust="spacingAndGlyphs">1</tspan></text>
<text class="ls d" y="699.0" font-size="20.8"><tspan x="1013.12" textLength="12.61" lengthAdjust="spacingAndGlyphs">2</tspan><tspan x="1026.07" textLength="12.61" lengthAdjust="spacingAndGlyphs">0</tspan><tspan x="1039.08" textLength="12.61" lengthAdjust="spacingAndGlyphs">2</tspan><tspan x="1051.8" textLength="12.61" lengthAdjust="spacingAndGlyphs">2</tspan></text>
<circle cx="1081.1" cy="689.3" r="3" fill="#1a1615"/>
<line x1="1081" y1="689" x2="1081" y2="706.6" stroke="#1a1615" stroke-width="0.9"/>
<text class="ls" x="1063.6" y="724.5" font-size="19.6" textLength="35.76" lengthAdjust="spacingAndGlyphs">2023</text>
<text class="jp b" y="671.4"><tspan x="1085.92" font-size="16.2">（</tspan><tspan x="1102.61" font-size="16.2">四</tspan><tspan x="1119.88" font-size="16.2">半</tspan><tspan x="1136.72" font-size="16.2">期</tspan><tspan x="1152.88" font-size="16.2">）</tspan></text>
<text class="jp b" y="698.1"><tspan x="1085.92" font-size="16.2">（</tspan><tspan x="1103.17" font-size="16.2">年</tspan><tspan x="1120.63" font-size="16.2">）</tspan></text>
<polygon points="1123.5,208.8 1144,228 1144,623.8 1123.5,643.6 1103,623.8 1103,228" fill="url(#ag)"/>
<text class="jp b" font-size="19.5" text-anchor="middle"><tspan x="1123.5" y="248">業</tspan><tspan x="1123.5" y="267.45">況</tspan><tspan x="1123.5" y="286.9">が</tspan><tspan x="1123.5" y="306.35">良</tspan><tspan x="1123.5" y="325.8">い</tspan></text>
<text class="jp b w" font-size="19.5" text-anchor="middle"><tspan x="1123.5" y="538.2">業</tspan><tspan x="1123.5" y="557.65">況</tspan><tspan x="1123.5" y="577.1">が</tspan><tspan x="1123.5" y="596.55">悪</tspan><tspan x="1123.5" y="616">い</tspan></text>
<line x1="201.3" y1="745" x2="242" y2="745" stroke="#0b3f86" stroke-width="4"/>
<text class="jp b" x="250.2" y="753" font-size="19.6" textLength="119.8" lengthAdjust="spacing">大企業製造業</text>
<line x1="396.3" y1="745" x2="437" y2="745" stroke="#e6763a" stroke-width="4"/>
<text class="jp b" x="445.2" y="753" font-size="19.6" textLength="140" lengthAdjust="spacing">大企業非製造業</text>
<line x1="610.7" y1="745" x2="651.7" y2="745" stroke="#dc9412" stroke-width="4" stroke-linecap="round"/>
<text class="jp b" x="660.1" y="753" font-size="19.6" textLength="139.6" lengthAdjust="spacing">中小企業製造業</text>
<line x1="823.8" y1="745" x2="865" y2="745" stroke="#90ecfb" stroke-width="4"/>
<text class="jp b" x="875.7" y="753" font-size="19.6" textLength="158.5" lengthAdjust="spacing">中小企業非製造業</text>
<text class="jp palt" x="36.6" y="791.5" font-size="15.3" textLength="1123.5" lengthAdjust="spacing">備考：「業況判断DI」は、企業の収益を中心とした業況についての全般的な判断を示すものであり、良いと回答した企業の割合から悪いと回答した企業の割合を引いて算出。</text>
<text class="jp" y="813.8" font-size="15.3"><tspan class="palt" x="36.6" textLength="304.5" lengthAdjust="spacing">資料：日本銀行「全国企業短期経済観測調査」</tspan><tspan x="333.6" font-size="15.3">（</tspan><tspan class="ls d2" y="814" font-size="15.6"><tspan x="347.97" textLength="10.33" lengthAdjust="spacingAndGlyphs">2</tspan><tspan x="357.91" textLength="10.33" lengthAdjust="spacingAndGlyphs">0</tspan><tspan x="367.9" textLength="10.33" lengthAdjust="spacingAndGlyphs">2</tspan><tspan x="377.89" textLength="10.33" lengthAdjust="spacingAndGlyphs">3</tspan></tspan><tspan x="388.93" y="813.8" font-size="15.3">年</tspan><tspan class="ls d2" y="814" font-size="15.6"><tspan x="405.01" textLength="10.33" lengthAdjust="spacingAndGlyphs">4</tspan></tspan><tspan x="415.4" y="813.8" font-size="15.3">月</tspan><tspan x="428.6" y="813.8" font-size="15.3">）</tspan></text>
</svg>
</body></html>
